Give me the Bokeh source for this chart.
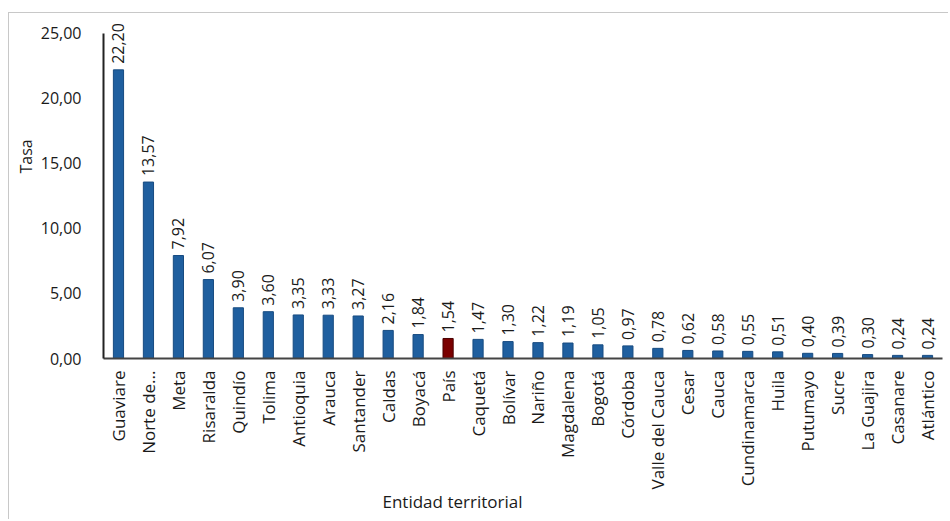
from math import pi
from bokeh.plotting import figure
from bokeh.models import (ColumnDataSource, FactorRange, Range1d, FixedTicker,
                          CustomJSTickFormatter, Title)
from bokeh.core.properties import value
from bokeh.embed import file_html
from bokeh.resources import INLINE

categories = ["Guaviare", "Norte de...", "Meta", "Risaralda", "Quindío", "Tolima",
              "Antioquia", "Arauca", "Santander", "Caldas", "Boyacá", "País",
              "Caquetá", "Bolívar", "Nariño", "Magdalena", "Bogotá", "Córdoba",
              "Valle del Cauca", "Cesar", "Cauca", "Cundinamarca", "Huila",
              "Putumayo", "Sucre", "La Guajira", "Casanare", "Atlántico"]
tasa = [22.20, 13.57, 7.92, 6.07, 3.90, 3.60, 3.35, 3.33, 3.27, 2.16, 1.84, 1.54,
        1.47, 1.30, 1.22, 1.19, 1.05, 0.97, 0.78, 0.62, 0.58, 0.55, 0.51, 0.40,
        0.39, 0.30, 0.24, 0.24]
y_ticks = [0, 5, 10, 15, 20, 25]
highlight = "País"

FONT = "Open Sans"
BLUE = "#1f5f9f"
BLUE_EDGE = "#174b80"
RED = "#7a0000"
RED_EDGE = "#4a0000"

colors = [RED if c == highlight else BLUE for c in categories]
edges = [RED_EDGE if c == highlight else BLUE_EDGE for c in categories]
labels = [f"{v:.2f}".replace(".", ",") for v in tasa]

src = ColumnDataSource(dict(cat=categories, val=tasa, color=colors, edge=edges, lab=labels))

p = figure(width=940, height=507, x_range=FactorRange(factors=categories, range_padding=0),
           y_range=Range1d(0, 26.38), output_backend="svg", toolbar_location=None,
           min_border_left=94, min_border_right=7, min_border_top=2, min_border_bottom=162,
           styles={"margin-left": "8px", "margin-top": "12px",
                   "border-left": "1px solid #c8c8c8", "border-top": "1px solid #c8c8c8"})

p.vbar(x="cat", top="val", width=0.34, source=src, fill_color="color",
       line_color="edge", line_width=1)
p.text(x="cat", y="val", text="lab", source=src, angle=pi / 2, y_offset=-6,
       text_align="left", text_baseline="middle", text_font=value(FONT),
       text_font_size="16px", text_color="#1a1a1a")

p.xgrid.visible = False
p.ygrid.visible = False
p.outline_line_color = None

ya = p.yaxis[0]
ya.ticker = FixedTicker(ticks=y_ticks)
ya.formatter = CustomJSTickFormatter(code="return tick.toFixed(2).replace('.', ',');")
ya.bounds = (0, 25)
ya.major_tick_line_color = None
ya.minor_tick_line_color = None
ya.major_label_standoff = 16
ya.axis_line_color = "#222222"
ya.axis_line_width = 2
ya.major_label_text_font = FONT
ya.major_label_text_font_size = "16px"
ya.major_label_text_color = "#1a1a1a"

xa = p.xaxis[0]
xa.major_label_orientation = pi / 2
xa.major_tick_line_color = None
xa.minor_tick_line_color = None
xa.major_label_standoff = 6
xa.axis_line_color = "#444444"
xa.axis_line_width = 2
xa.major_label_text_font = FONT
xa.major_label_text_font_size = "17px"
xa.major_label_text_color = "#1a1a1a"

p.add_layout(Title(text="Tasa", align="left", offset=185, standoff=2, text_font=FONT,
                   text_font_size="16px", text_font_style="normal",
                   text_color="#1a1a1a"), "left")
p.add_layout(Title(text="Entidad territorial", align="left", offset=279, standoff=-9,
                   text_font=FONT, text_font_size="17px", text_font_style="normal",
                   text_color="#1a1a1a"), "below")

open("out.html", "w").write(file_html(p, INLINE))
